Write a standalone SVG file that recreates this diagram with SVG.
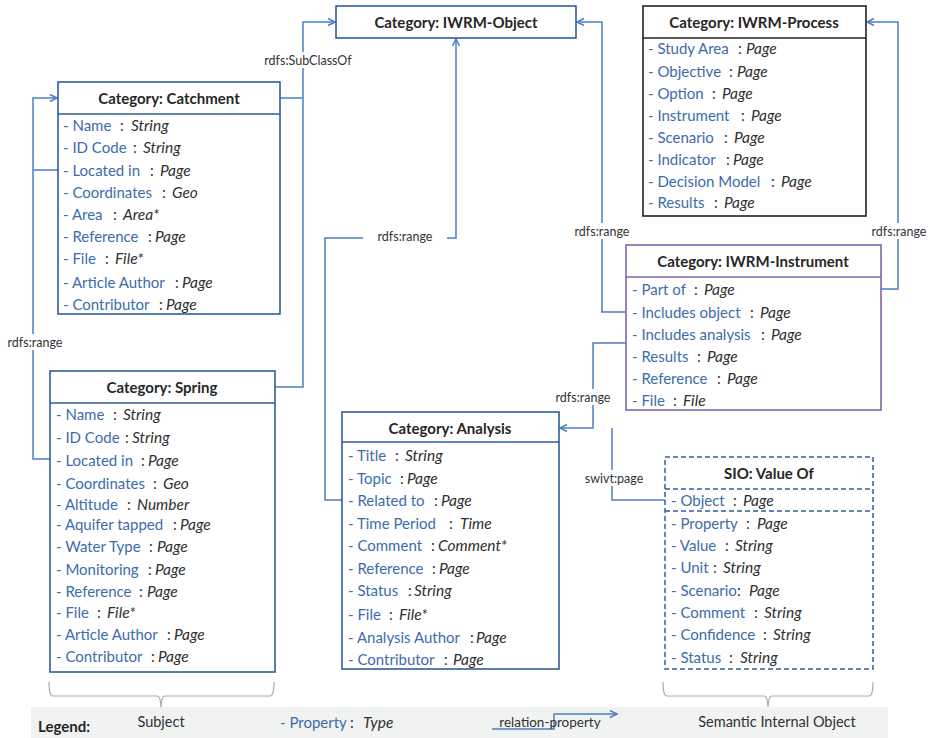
<svg xmlns="http://www.w3.org/2000/svg" width="931" height="738" viewBox="0 0 931 738">
  <style>
    text { font-family: Lato, "Liberation Sans", sans-serif; }
    .box { fill: #ffffff; stroke: #2f5d9b; stroke-width: 1.6; }
    .sep { stroke: #2f5d9b; stroke-width: 1.4; }
    .ttl { font-size: 15px; font-weight: bold; fill: #262626; text-anchor: middle; }
    .r { font-size: 15px; fill: #303030; }
    .p { fill: #3d6cab; }
    .t { font-style: italic; font-size: 15.5px; }
    .lbl { font-size: 12.5px; fill: #333333; }
    .con { fill: none; stroke: #4a7fc2; stroke-width: 1.5; }
    .brace { fill: none; stroke: #a8a8a8; stroke-width: 1.2; }
  </style>
  <defs>
    <marker id="arr" markerWidth="10" markerHeight="10" refX="8" refY="4" orient="auto" markerUnits="userSpaceOnUse">
      <path d="M1,0.5 L8,4 L1,7.5" fill="none" stroke="#4a7fc2" stroke-width="1.5"/>
    </marker>
  </defs>

  <!-- connectors -->
  <g id="connectors">
    <!-- subclass links to IWRM-Object -->
    <path class="con" d="M280,98 H303 M275,387 H303 V22 H335" marker-end="url(#arr)"/>
    <!-- Located in (Catchment / Spring) to Catchment -->
    <path class="con" d="M58,170 H33 M58,459 H33 V98 H57" marker-end="url(#arr)"/>
    <!-- Analysis Related to to IWRM-Object -->
    <path class="con" d="M343,500 H325 V238 H363 M447,238 H456 V39" marker-end="url(#arr)"/>
    <!-- Includes object to IWRM-Object -->
    <path class="con" d="M626,312 H602 V22 H577" marker-end="url(#arr)"/>
    <!-- Part of to IWRM-Process -->
    <path class="con" d="M881,289 H898 V22 H867" marker-end="url(#arr)"/>
    <!-- Includes analysis to Analysis -->
    <path class="con" d="M626,343 H593 V428 H560" marker-end="url(#arr)"/>
    <!-- SIO Object to Analysis -->
    <path class="con" d="M665,500 H612 V428"/>
    <!-- label backgrounds -->
    <rect x="260" y="52" width="96" height="16" fill="#fff"/>
    <rect x="4" y="334" width="62" height="16" fill="#fff"/>
    <rect x="571" y="223" width="63" height="16" fill="#fff"/>
    <rect x="867" y="223" width="64" height="16" fill="#fff"/>
    <rect x="551" y="389" width="63" height="16" fill="#fff"/>
    <rect x="581" y="470" width="67" height="16" fill="#fff"/>
    <text class="lbl" x="308" y="65" text-anchor="middle">rdfs:SubClassOf</text>
    <text class="lbl" x="35" y="347" text-anchor="middle">rdfs:range</text>
    <text class="lbl" x="405" y="241" text-anchor="middle">rdfs:range</text>
    <text class="lbl" x="602" y="236" text-anchor="middle">rdfs:range</text>
    <text class="lbl" x="899" y="236" text-anchor="middle">rdfs:range</text>
    <text class="lbl" x="583" y="402" text-anchor="middle">rdfs:range</text>
    <text class="lbl" x="614" y="483" text-anchor="middle">swivt:page</text>
  </g>

  <!-- IWRM-Object -->
  <g id="iwrm-object">
    <rect class="box" x="336" y="6" width="240" height="32"/>
    <text class="ttl" x="456" y="28">Category: IWRM-Object</text>
  </g>

  <!-- Catchment -->
  <g id="catchment">
    <rect class="box" x="58" y="82" width="222" height="232"/>
    <line class="sep" x1="58" y1="114" x2="280" y2="114"/>
    <text class="ttl" x="169" y="104">Category: Catchment</text>
    <text class="r" y="131"><tspan class="p" x="63">- Name</tspan><tspan x="120">:</tspan><tspan class="t" x="131">String</tspan></text>
    <text class="r" y="153"><tspan class="p" x="63">- ID Code</tspan><tspan x="133">:</tspan><tspan class="t" x="143">String</tspan></text>
    <text class="r" y="176"><tspan class="p" x="63">- Located in</tspan><tspan x="150">:</tspan><tspan class="t" x="160">Page</tspan></text>
    <text class="r" y="198"><tspan class="p" x="63">- Coordinates</tspan><tspan x="162">:</tspan><tspan class="t" x="172">Geo</tspan></text>
    <text class="r" y="220"><tspan class="p" x="63">- Area</tspan><tspan x="113">:</tspan><tspan class="t" x="123">Area*</tspan></text>
    <text class="r" y="242"><tspan class="p" x="63">- Reference</tspan><tspan x="148">:</tspan><tspan class="t" x="155">Page</tspan></text>
    <text class="r" y="264"><tspan class="p" x="63">- File</tspan><tspan x="105">:</tspan><tspan class="t" x="115">File*</tspan></text>
    <text class="r" y="288"><tspan class="p" x="63">- Article Author</tspan><tspan x="175">:</tspan><tspan class="t" x="182">Page</tspan></text>
    <text class="r" y="310"><tspan class="p" x="63">- Contributor</tspan><tspan x="159">:</tspan><tspan class="t" x="166">Page</tspan></text>
  </g>

  <!-- Spring -->
  <g id="spring">
    <rect class="box" x="50" y="371" width="225" height="301"/>
    <line class="sep" x1="50" y1="403" x2="275" y2="403"/>
    <text class="ttl" x="162" y="393">Category: Spring</text>
    <text class="r" y="420"><tspan class="p" x="56">- Name</tspan><tspan x="113">:</tspan><tspan class="t" x="123">String</tspan></text>
    <text class="r" y="443"><tspan class="p" x="56">- ID Code</tspan><tspan x="125">:</tspan><tspan class="t" x="132">String</tspan></text>
    <text class="r" y="466"><tspan class="p" x="56">- Located in</tspan><tspan x="141">:</tspan><tspan class="t" x="148">Page</tspan></text>
    <text class="r" y="489"><tspan class="p" x="56">- Coordinates</tspan><tspan x="153">:</tspan><tspan class="t" x="163">Geo</tspan></text>
    <text class="r" y="510"><tspan class="p" x="56">- Altitude</tspan><tspan x="127">:</tspan><tspan class="t" x="137">Number</tspan></text>
    <text class="r" y="530"><tspan class="p" x="56">- Aquifer tapped</tspan><tspan x="173">:</tspan><tspan class="t" x="180">Page</tspan></text>
    <text class="r" y="552"><tspan class="p" x="56">- Water Type</tspan><tspan x="149">:</tspan><tspan class="t" x="157">Page</tspan></text>
    <text class="r" y="575"><tspan class="p" x="56">- Monitoring</tspan><tspan x="148">:</tspan><tspan class="t" x="155">Page</tspan></text>
    <text class="r" y="597"><tspan class="p" x="56">- Reference</tspan><tspan x="139">:</tspan><tspan class="t" x="147">Page</tspan></text>
    <text class="r" y="618"><tspan class="p" x="56">- File</tspan><tspan x="97">:</tspan><tspan class="t" x="107">File*</tspan></text>
    <text class="r" y="640"><tspan class="p" x="56">- Article Author</tspan><tspan x="167">:</tspan><tspan class="t" x="174">Page</tspan></text>
    <text class="r" y="662"><tspan class="p" x="56">- Contributor</tspan><tspan x="151">:</tspan><tspan class="t" x="158">Page</tspan></text>
  </g>

  <!-- Analysis -->
  <g id="analysis">
    <rect class="box" x="342" y="412" width="217" height="257"/>
    <line class="sep" x1="342" y1="442" x2="559" y2="442"/>
    <text class="ttl" x="450" y="434">Category: Analysis</text>
    <text class="r" y="461"><tspan class="p" x="348">- Title</tspan><tspan x="395">:</tspan><tspan class="t" x="405">String</tspan></text>
    <text class="r" y="484"><tspan class="p" x="348">- Topic</tspan><tspan x="400">:</tspan><tspan class="t" x="407">Page</tspan></text>
    <text class="r" y="506"><tspan class="p" x="348">- Related to</tspan><tspan x="434">:</tspan><tspan class="t" x="441">Page</tspan></text>
    <text class="r" y="529"><tspan class="p" x="348">- Time Period</tspan><tspan x="449">:</tspan><tspan class="t" x="460">Time</tspan></text>
    <text class="r" y="551"><tspan class="p" x="348">- Comment</tspan><tspan x="431">:</tspan><tspan class="t" x="438">Comment*</tspan></text>
    <text class="r" y="574"><tspan class="p" x="348">- Reference</tspan><tspan x="432">:</tspan><tspan class="t" x="439">Page</tspan></text>
    <text class="r" y="596"><tspan class="p" x="348">- Status</tspan><tspan x="408">:</tspan><tspan class="t" x="414">String</tspan></text>
    <text class="r" y="620"><tspan class="p" x="348">- File</tspan><tspan x="389">:</tspan><tspan class="t" x="399">File*</tspan></text>
    <text class="r" y="643"><tspan class="p" x="348">- Analysis Author</tspan><tspan x="470">:</tspan><tspan class="t" x="476">Page</tspan></text>
    <text class="r" y="665"><tspan class="p" x="348">- Contributor</tspan><tspan x="444">:</tspan><tspan class="t" x="453">Page</tspan></text>
  </g>

  <!-- IWRM-Process -->
  <g id="iwrm-process">
    <rect x="643" y="6" width="223" height="210" fill="#fff" stroke="#222" stroke-width="1.6"/>
    <line x1="643" y1="38" x2="866" y2="38" stroke="#222" stroke-width="1.4"/>
    <text class="ttl" x="754" y="28">Category: IWRM-Process</text>
    <text class="r" y="54"><tspan class="p" x="648">- Study Area</tspan><tspan x="738">:</tspan><tspan class="t" x="746">Page</tspan></text>
    <text class="r" y="77"><tspan class="p" x="648">- Objective</tspan><tspan x="729">:</tspan><tspan class="t" x="737">Page</tspan></text>
    <text class="r" y="99"><tspan class="p" x="648">- Option</tspan><tspan x="712">:</tspan><tspan class="t" x="722">Page</tspan></text>
    <text class="r" y="121"><tspan class="p" x="648">- Instrument</tspan><tspan x="741">:</tspan><tspan class="t" x="751">Page</tspan></text>
    <text class="r" y="143"><tspan class="p" x="648">- Scenario</tspan><tspan x="724">:</tspan><tspan class="t" x="734">Page</tspan></text>
    <text class="r" y="165"><tspan class="p" x="648">- Indicator</tspan><tspan x="726">:</tspan><tspan class="t" x="733">Page</tspan></text>
    <text class="r" y="187"><tspan class="p" x="648">- Decision Model</tspan><tspan x="771">:</tspan><tspan class="t" x="781">Page</tspan></text>
    <text class="r" y="208"><tspan class="p" x="648">- Results</tspan><tspan x="714">:</tspan><tspan class="t" x="724">Page</tspan></text>
  </g>

  <!-- IWRM-Instrument -->
  <g id="iwrm-instrument">
    <rect x="626" y="245" width="255" height="165" fill="#fff" stroke="#8064a8" stroke-width="1.6"/>
    <line x1="626" y1="277" x2="881" y2="277" stroke="#8064a8" stroke-width="1.4"/>
    <text class="ttl" x="753" y="267">Category: IWRM-Instrument</text>
    <text class="r" y="295"><tspan class="p" x="632">- Part of</tspan><tspan x="694">:</tspan><tspan class="t" x="704">Page</tspan></text>
    <text class="r" y="318"><tspan class="p" x="632">- Includes object</tspan><tspan x="750">:</tspan><tspan class="t" x="760">Page</tspan></text>
    <text class="r" y="340"><tspan class="p" x="632">- Includes analysis</tspan><tspan x="761">:</tspan><tspan class="t" x="771">Page</tspan></text>
    <text class="r" y="362"><tspan class="p" x="632">- Results</tspan><tspan x="697">:</tspan><tspan class="t" x="707">Page</tspan></text>
    <text class="r" y="384"><tspan class="p" x="632">- Reference</tspan><tspan x="717">:</tspan><tspan class="t" x="727">Page</tspan></text>
    <text class="r" y="406"><tspan class="p" x="632">- File</tspan><tspan x="673">:</tspan><tspan class="t" x="683">File</tspan></text>
  </g>

  <!-- SIO: Value Of (dashed) -->
  <g id="sio-value-of">
    <rect x="665" y="457" width="208" height="212" fill="#fff" stroke="#2f5d9b" stroke-width="1.5" stroke-dasharray="5,3"/>
    <line x1="665" y1="489" x2="873" y2="489" stroke="#2f5d9b" stroke-width="1.4" stroke-dasharray="5,3"/>
    <line x1="665" y1="511" x2="873" y2="511" stroke="#2f5d9b" stroke-width="1.4" stroke-dasharray="5,3"/>
    <text class="ttl" x="769" y="479">SIO: Value Of</text>
    <text class="r" y="506"><tspan class="p" x="671">- Object</tspan><tspan x="733">:</tspan><tspan class="t" x="743">Page</tspan></text>
    <text class="r" y="529"><tspan class="p" x="671">- Property</tspan><tspan x="746">:</tspan><tspan class="t" x="757">Page</tspan></text>
    <text class="r" y="551"><tspan class="p" x="671">- Value</tspan><tspan x="725">:</tspan><tspan class="t" x="735">String</tspan></text>
    <text class="r" y="573"><tspan class="p" x="671">- Unit</tspan><tspan x="713">:</tspan><tspan class="t" x="723">String</tspan></text>
    <text class="r" y="596"><tspan class="p" x="671">- Scenario</tspan><tspan x="737">:</tspan><tspan class="t" x="749">Page</tspan></text>
    <text class="r" y="618"><tspan class="p" x="671">- Comment</tspan><tspan x="754">:</tspan><tspan class="t" x="764">String</tspan></text>
    <text class="r" y="640"><tspan class="p" x="671">- Confidence</tspan><tspan x="763">:</tspan><tspan class="t" x="773">String</tspan></text>
    <text class="r" y="663"><tspan class="p" x="671">- Status</tspan><tspan x="729">:</tspan><tspan class="t" x="740">String</tspan></text>
  </g>

  <!-- legend -->
  <g id="legend">
    <path class="brace" d="M49,682 Q49,696 53,696 H157 Q161,696 161,710 Q161,696 165,696 H270 Q274,696 274,682"/>
    <path class="brace" d="M663,682 Q663,696 667,696 H764 Q768,696 768,710 Q768,696 772,696 H869 Q873,696 873,682"/>
    <rect x="31" y="707" width="857" height="31" fill="#f1f3f3"/>
    <text x="38" y="732" font-size="15" font-weight="bold" fill="#262626">Legend:</text>
    <text x="161" y="727" font-size="14.5" fill="#303030" text-anchor="middle">Subject</text>
    <text class="r" y="728" font-size="14.5"><tspan class="p" x="280">- Property</tspan><tspan x="350">:</tspan><tspan class="t" x="363">Type</tspan></text>
    <path class="con" d="M492,729 H554 V714 H617" marker-end="url(#arr)"/>
    <text x="550" y="727" font-size="13.5" fill="#303030" text-anchor="middle">relation-property</text>
    <text x="777" y="727" font-size="14.5" fill="#303030" text-anchor="middle">Semantic Internal Object</text>
  </g>
</svg>
